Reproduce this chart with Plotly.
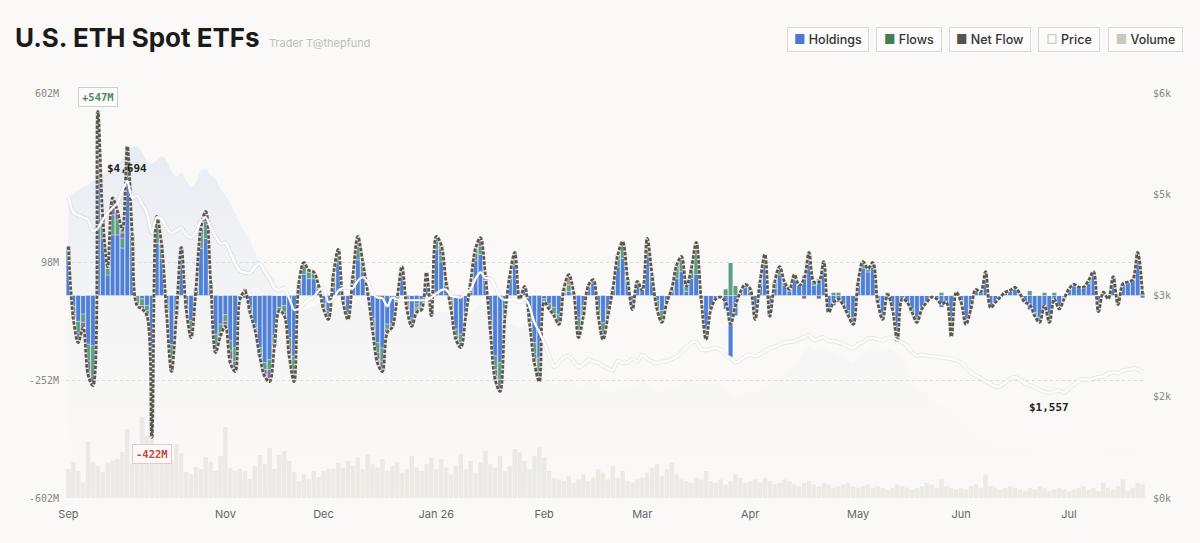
import pandas as pd
import plotly.graph_objects as go

# trading days, Sep 2025 -> Jul 2026
START_DAY = "2025-09-18"
TICK_MONTHS = ["2025-09", "2025-11", "2025-12", "2026-01", "2026-02",
               "2026-03", "2026-04", "2026-05", "2026-06", "2026-07"]
TICK_LABELS = ["Sep", "Nov", "Dec", "Jan 26", "Feb", "Mar", "Apr", "May", "Jun", "Jul"]

# daily net flow, $M
NET_FLOW = [
    146, -70, -140, -95, -235, -268, 547, 230, 86, 290, 250, 196, 443, 180, -30, -40, -60, -422, 235, 150,
    -50, -226, -60, 143, -40, -125, 20, 200, 250, 40, -170, -120, -92, -200, -226, -10, 12, -50, -100, -180,
    -240, -256, -150, -45, -60, -180, -256, 40, 98, 75, 70, 30, -40, -71, 60, 137, -20, -71, 60, 176,
    100, 10, -100, -200, -226, -110, -95, -10, 86, -40, -92, -50, -42, 68, -60, 176, 150, 40, -40, -130,
    -155, -60, 40, 140, 172, 60, -100, -250, -285, -60, 60, 128, -10, 27, -80, -200, -256, -20, -40, -60,
    -86, 20, 62, 10, -125, -60, 30, 47, -60, -131, -60, 20, 120, 160, 50, -42, 42, 15, 170, 60,
    -40, -80, -20, 20, 90, 116, 27, 80, 158, -10, -131, -40, -10, -5, -20, -85, -30, 10, 33, 20,
    -71, 40, 122, -62, 40, 86, 40, 18, 62, 30, 50, 128, 40, 40, 101, -50, -20, -10, -30, -60,
    -86, 40, 101, 80, 98, -20, -71, 3, -40, -137, -10, -20, -50, -80, -40, -20, -5, -10, -25, -20,
    -122, 10, -20, -86, -40, 18, 10, 71, -36, -20, -5, 10, 15, 24, 5, -20, -27, -60, -80, -30,
    -80, -10, -40, -10, 20, 33, 25, 25, 45, 71, -48, 10, -10, 56, -27, 35, 40, 47, 128, 3,
]

# per-fund flows, $M (ETHA is the remainder of the net flow)
FETH = [
    10, -20, -35, -25, -50, -90, 110, 40, 20, 60, 45, 30, 60, 25, -25, -20, -15, -60, 50, 30,
    -15, -40, -10, 25, -10, -30, 5, 40, 50, 10, -30, -25, -20, -30, -40, 0, 0, -15, -10, -15,
    -20, -30, -20, -10, -20, -30, -40, 15, 25, 20, 15, 10, -10, -10, 15, 30, -5, -15, 15, 40,
    20, 5, -20, -30, -40, -15, -10, 0, 20, -10, -15, -10, -10, 10, -10, 25, 20, 10, -5, -20,
    -25, -10, 5, 20, 25, 15, -15, -40, -50, -20, 10, 40, 0, 0, -10, -35, -40, -10, -15, -20,
    -20, 5, 20, 0, -40, -30, 5, 10, -15, -30, -20, 0, 25, 40, 10, -10, 10, 0, 40, 20,
    -25, -30, 0, 10, 30, 35, 15, 30, 80, 0, -20, 0, 0, 0, 20, 98, 30, 0, 10, 10,
    -15, 10, 20, -20, 20, 25, 10, 5, 15, 0, 10, 30, 10, 5, 30, -10, 10, 10, -5, -15,
    -20, 10, 20, 10, 15, 0, -10, 10, -5, -20, 0, 0, -10, -15, -5, 0, 0, 0, 10, 0,
    -15, 0, -5, -10, 0, 0, 0, 15, 0, 0, 0, 0, 0, 0, 0, 0, 15, -10, -10, 10,
    -10, 10, -5, 0, 0, 0, 0, 0, 10, 10, 0, 0, 0, 0, 0, 0, 0, 0, 10, 10,
]
ETHE = [
    0, -12, -20, -15, -30, -20, 60, 20, 0, 40, 25, 15, 30, 10, 0, -10, -10, -50, 20, 10,
    0, -30, -5, 15, 0, -15, 0, 20, 20, 0, -15, -10, -10, -25, -20, 0, 0, 0, -5, -10,
    -15, -25, -10, 0, -10, -20, -25, 0, 10, 0, 5, 0, 0, -5, 0, 10, 0, -5, 10, 20,
    10, 0, -10, -20, -20, -10, 0, 0, 0, -10, -10, -5, 0, 5, -10, 15, 20, 0, 0, -10,
    -10, 0, 0, 10, 15, 0, -10, -20, -25, 0, 0, 0, 0, 0, -5, -15, -20, 0, 0, -5,
    -10, 0, 0, 0, -10, 0, 0, 0, -5, -15, 0, 0, 10, 10, 0, 0, 0, 0, 15, 0,
    0, -5, 0, 0, 10, 10, 0, 0, 10, 0, -10, 0, 0, 0, 0, 0, 0, 0, 0, 0,
    0, 0, 10, -5, 0, 0, 0, 0, 0, 0, -10, 0, 0, -10, 0, 0, 0, 0, 0, 0,
    0, 0, 0, 0, 0, 0, 0, 0, 0, 0, 0, 0, 0, 0, 0, 0, 0, 0, 0, 0,
    -5, 0, 0, 0, 0, 0, 0, 0, 0, 0, 0, 0, 0, 0, 0, 0, 0, 0, 0, 0,
    0, 0, 0, 0, 0, 0, 0, 0, 0, 0, 0, 0, 0, 0, 0, 0, 0, 0, 0, 0,
]
ETH_MINI = [
    0, -5, -8, 0, -10, -8, 25, 0, 5, 10, 0, 10, 15, 0, -5, 0, -5, -20, 10, 0,
    -5, -10, 0, 5, 0, -5, 0, 0, 10, 0, -10, 0, -5, -10, -10, 0, 20, 0, 0, 0,
    -5, -10, 0, 0, 0, -5, -10, 0, 0, 5, 0, 0, -5, -10, 20, 0, 0, 0, 0, 10,
    0, 0, 0, -10, -10, 0, 0, 0, 0, -15, 0, -10, 0, 25, 0, 0, 10, 0, -25, 0,
    -5, 0, 25, 5, 10, 0, 0, -10, -10, 0, 0, 0, 0, 10, 0, -10, -10, 0, 0, 0,
    0, 10, 30, 0, -10, 0, 0, 0, 0, -5, 0, 0, 0, 0, 0, 0, 0, 0, 0, 0,
    0, 0, 0, 0, 0, 0, 0, 0, 5, 0, 0, 0, 0, 0, 0, 0, 0, 0, 0, 0,
    0, 0, 0, 0, 0, 0, 0, 0, 0, 0, 0, 0, 0, 0, 0, 0, 0, 0, 0, 0,
    0, 0, 0, 0, 0, 0, 0, 0, 0, 0, 0, 0, 0, 0, 0, 0, 0, 0, 0, 0,
    0, 0, 0, -5, 0, 0, 0, 0, 0, 0, 0, 0, 0, 0, 0, 0, 0, 0, -5, 0,
    0, 0, 0, -5, 0, 0, 0, 0, 0, 0, 0, 0, 0, 0, 0, 0, 0, 0, 0, 0,
]

# ETH price, $
PRICE = [
    4460, 4230, 4190, 4160, 4120, 3950, 4000, 4120, 4220, 4300, 4370, 4560, 4694, 4440, 4480, 4360, 4220, 3930, 4160, 4130,
    4000, 3925, 3960, 4000, 3900, 3860, 3940, 4100, 4160, 4000, 3870, 3770, 3780, 3640, 3480, 3360, 3340, 3330, 3420, 3480,
    3360, 3250, 3110, 3080, 3110, 2960, 2790, 2800, 2870, 2940, 2980, 3070, 3120, 2900, 2940, 3070, 3110, 3120, 3110, 3220,
    3270, 3200, 3040, 2970, 2960, 2840, 2970, 2940, 2930, 2930, 2930, 2930, 2930, 2930, 2970, 3030, 3080, 3090, 2990, 2980,
    2970, 3040, 3090, 3250, 3347, 3260, 3250, 3130, 2980, 2930, 2940, 2940, 2900, 2960, 2840, 2600, 2460, 2290, 2110, 1940,
    2000, 2090, 2100, 2030, 1940, 1980, 2050, 2020, 2010, 1950, 1920, 1890, 2030, 2000, 2010, 2060, 2020, 2120, 2060, 2020,
    2000, 2020, 2030, 2060, 2090, 2160, 2230, 2300, 2310, 2200, 2190, 2210, 2220, 2200, 2120, 2080, 2010, 2040, 2100, 2120,
    2100, 2130, 2170, 2220, 2240, 2270, 2300, 2310, 2320, 2350, 2390, 2414, 2340, 2360, 2380, 2320, 2330, 2300, 2280, 2240,
    2220, 2280, 2310, 2360, 2370, 2350, 2340, 2370, 2380, 2340, 2300, 2260, 2160, 2110, 2120, 2110, 2100, 2090, 2080, 2070,
    2060, 2040, 2000, 1930, 1860, 1810, 1780, 1730, 1690, 1650, 1660, 1710, 1770, 1790, 1760, 1700, 1670, 1640, 1600, 1570,
    1557, 1580, 1590, 1560, 1620, 1680, 1740, 1760, 1750, 1770, 1790, 1800, 1840, 1860, 1850, 1890, 1900, 1920, 1910, 1860,
]

# total holdings, $B
HOLDINGS = [
    22.4, 22.6, 22.8, 23.0, 23.2, 23.5, 23.8, 24.0, 24.2, 24.4, 24.6, 25.2, 25.8, 26.0, 26.0, 25.6, 25.0, 24.8, 25.0, 25.3,
    25.0, 24.2, 23.8, 24.1, 23.5, 23.0, 23.4, 24.2, 24.4, 23.9, 23.6, 22.9, 22.4, 21.8, 21.1, 20.3, 19.6, 19.1, 18.2, 17.6,
    17.1, 16.6, 16.2, 15.5, 15.0, 14.6, 14.0, 13.8, 13.9, 14.1, 14.2, 14.4, 14.5, 13.9, 13.9, 14.3, 14.4, 14.4, 14.3, 14.7,
    14.8, 14.6, 14.0, 13.8, 13.7, 13.3, 13.6, 13.5, 13.5, 13.4, 13.4, 13.4, 13.4, 13.4, 13.5, 13.7, 13.8, 13.8, 13.5, 13.4,
    13.3, 13.5, 13.6, 14.0, 14.3, 14.0, 13.9, 13.5, 13.0, 12.8, 12.8, 12.8, 12.6, 12.8, 12.3, 11.4, 10.8, 10.0, 9.2, 8.4,
    8.6, 8.9, 8.9, 8.6, 8.2, 8.3, 8.6, 8.4, 8.3, 8.0, 7.9, 7.8, 8.3, 8.2, 8.2, 8.4, 8.2, 8.6, 8.4, 8.1,
    8.0, 8.0, 8.0, 8.1, 8.2, 8.4, 8.7, 9.0, 9.0, 8.5, 8.4, 8.4, 8.4, 8.3, 7.9, 7.7, 7.4, 7.5, 7.8, 7.9,
    7.8, 8.0, 8.2, 8.5, 8.7, 9.0, 9.3, 9.5, 9.8, 10.2, 10.8, 11.2, 10.9, 11.0, 11.1, 10.8, 10.8, 10.6, 10.4, 10.2,
    10.0, 10.4, 10.6, 10.9, 11.0, 10.9, 10.8, 11.0, 11.0, 10.6, 10.2, 9.6, 8.8, 8.2, 8.0, 7.6, 7.3, 7.0, 6.8, 6.6,
    6.4, 6.2, 5.9, 5.5, 5.1, 4.8, 4.5, 4.3, 4.1, 3.9, 3.8, 3.9, 4.0, 4.1, 4.0, 3.8, 3.6, 3.5, 3.3, 3.2,
    3.1, 3.1, 3.1, 3.1, 3.2, 3.3, 3.4, 3.5, 3.5, 3.5, 3.6, 3.6, 3.7, 3.7, 3.7, 3.8, 3.8, 3.9, 3.9, 3.8,
]

# trading volume, $B
VOLUME = [
    0.86, 1.07, 0.80, 0.47, 1.66, 1.07, 0.95, 0.77, 1.04, 1.10, 1.16, 1.36, 2.04, 1.01, 1.07, 2.40, 1.84, 1.84, 1.16, 1.10,
    1.07, 1.10, 1.60, 1.33, 0.77, 0.71, 0.92, 0.86, 1.21, 1.07, 0.80, 1.24, 2.10, 0.89, 0.80, 0.86, 0.80, 0.56, 0.95, 1.27,
    1.01, 1.48, 0.86, 1.27, 1.39, 1.10, 0.77, 0.50, 0.71, 0.56, 0.80, 0.62, 0.80, 0.86, 0.86, 1.04, 0.89, 1.10, 0.95, 1.20,
    0.85, 1.30, 1.00, 0.90, 1.15, 0.80, 0.95, 1.05, 0.75, 0.85, 1.25, 0.90, 0.80, 1.00, 1.20, 0.85, 1.15, 0.90, 0.70, 0.95,
    1.30, 0.85, 1.10, 0.75, 1.05, 1.40, 1.00, 0.90, 1.25, 0.80, 0.95, 1.45, 1.35, 1.10, 0.85, 1.25, 1.50, 1.20, 0.80, 0.60,
    0.55, 0.50, 0.65, 0.45, 0.55, 0.70, 0.50, 0.60, 0.85, 0.75, 0.55, 0.95, 0.60, 0.80, 0.50, 0.45, 0.55, 0.60, 0.75, 0.90,
    1.00, 0.65, 0.85, 1.05, 0.70, 0.55, 0.50, 0.45, 0.60, 0.55, 0.80, 0.50, 0.45, 0.55, 0.40, 0.50, 0.70, 0.60, 0.45, 0.50,
    0.55, 0.45, 0.60, 0.50, 0.40, 0.45, 0.55, 0.50, 0.40, 0.35, 0.45, 0.50, 0.40, 0.35, 0.45, 0.40, 0.30, 0.35, 0.40, 0.45,
    0.35, 0.30, 0.35, 0.40, 0.30, 0.35, 0.30, 0.25, 0.30, 0.40, 0.35, 0.30, 0.25, 0.30, 0.35, 0.45, 0.40, 0.30, 0.55, 0.35,
    0.30, 0.25, 0.30, 0.25, 0.35, 0.40, 0.30, 0.70, 0.35, 0.30, 0.25, 0.30, 0.35, 0.30, 0.25, 0.20, 0.30, 0.25, 0.35, 0.30,
    0.20, 0.25, 0.30, 0.25, 0.20, 0.25, 0.30, 0.35, 0.25, 0.30, 0.20, 0.45, 0.30, 0.25, 0.35, 0.55, 0.20, 0.30, 0.45, 0.40,
]

FLOW_TICKS = [602, 98, -252, -602]
FLOW_TICK_LABELS = ["602M", "98M", "-252M", "-602M"]
PRICE_TICKS = [6000, 4500, 3000, 1500, 0]
PRICE_TICK_LABELS = ["$6k", "$5k", "$3k", "$2k", "$0k"]

LEGEND_LABELS = ["Holdings", "Flows", "Net Flow", "Price", "Volume"]
LEGEND_MARKS = ["■", "■", "■", "□", "■"]
LEGEND_COLORS = ["#4a78d2", "#3f7f52", "#57534c", "#cfcbc4", "#cbc8c1"]

FUND_COLORS = {"ETHA": "#4f7fd6", "FETH": "#5e9f84", "ETHE": "#7c6fa9", "ETH": "#a99c7f"}

BG = "#faf9f7"
MONO = "DejaVu Sans Mono"
SANS = "Inter, Noto Sans, sans-serif"

n = len(NET_FLOW)
for arr in (FETH, ETHE, ETH_MINI, PRICE, HOLDINGS, VOLUME):
    assert len(arr) == n, len(arr)

days = pd.bdate_range(START_DAY, periods=n).strftime("%Y-%m-%d").tolist()
etha = [t - a - b - c for t, a, b, c in zip(NET_FLOW, FETH, ETHE, ETH_MINI)]
tickvals = [next(d for d in days if d.startswith(m)) for m in TICK_MONTHS]

fig = go.Figure()

# holdings area (base axis, drawn first)
fig.add_trace(go.Scatter(
    x=days, y=HOLDINGS, yaxis="y", mode="lines", line=dict(width=0, shape="spline"),
    fill="tozeroy",
    fillgradient=dict(type="vertical", start=0, stop=26,
                      colorscale=[[0, "rgba(240,240,242,0.0)"], [1, "rgba(200,211,236,0.36)"]]),
    hoverinfo="skip",
))

# volume bars
fig.add_trace(go.Bar(
    x=days, y=VOLUME, yaxis="y2", marker=dict(color="rgba(205,201,193,0.32)", line_width=0),
    hoverinfo="skip",
))

# per-fund flow bars
for name, vals in [("ETHA", etha), ("FETH", FETH), ("ETHE", ETHE), ("ETH", ETH_MINI)]:
    fig.add_trace(go.Bar(
        x=days, y=vals, yaxis="y3", name=name,
        marker=dict(color=FUND_COLORS[name], line=dict(color="rgba(255,255,255,0.8)", width=0.4)),
    ))

# net flow line: light underlay + dark dashes
fig.add_trace(go.Scatter(
    x=days, y=NET_FLOW, yaxis="y3", mode="lines",
    line=dict(color="rgba(238,234,226,0.95)", width=3, shape="spline"), hoverinfo="skip",
))
fig.add_trace(go.Scatter(
    x=days, y=NET_FLOW, yaxis="y3", mode="lines",
    line=dict(color="#5a5650", width=2.8, shape="spline", dash="3.5px,1.5px"),
))

# price line with soft shadow
fig.add_trace(go.Scatter(
    x=days, y=PRICE, yaxis="y4", mode="lines",
    line=dict(color="rgba(120,120,120,0.12)", width=4.5, shape="spline", smoothing=0.6),
    hoverinfo="skip",
))
fig.add_trace(go.Scatter(
    x=days, y=PRICE, yaxis="y4", mode="lines",
    line=dict(color="white", width=2.2, shape="spline", smoothing=0.6),
))

i_max = max(range(n), key=lambda i: NET_FLOW[i])
i_min = min(range(n), key=lambda i: NET_FLOW[i])
p_max = max(range(n), key=lambda i: PRICE[i])
p_min = min(range(n), key=lambda i: PRICE[i])

annotations = [
    dict(x=days[i_max], y=NET_FLOW[i_max], xref="x", yref="y3", yshift=15,
         text=f"<b>+{NET_FLOW[i_max]}M</b>", showarrow=False,
         font=dict(family=MONO, size=10.5, color="#4b8a5e"),
         bgcolor="#fbfcfb", bordercolor="#c9d3c9", borderwidth=1, borderpad=3),
    dict(x=days[i_min], y=NET_FLOW[i_min], xref="x", yref="y3", yshift=-17,
         text=f"<b>{NET_FLOW[i_min]}M</b>", showarrow=False,
         font=dict(family=MONO, size=10.5, color="#c0473a"),
         bgcolor="#fdf8f7", bordercolor="#e6c9c5", borderwidth=1, borderpad=3),
    dict(x=days[p_max], y=PRICE[p_max], xref="x", yref="y4", yshift=13,
         text=f"<b>${PRICE[p_max]:,}</b>", showarrow=False,
         font=dict(family=MONO, size=11, color="#222")),
    dict(x=days[p_min], y=PRICE[p_min], xref="x", yref="y4", yshift=-15,
         text=f"<b>${PRICE[p_min]:,}</b>", showarrow=False,
         font=dict(family=MONO, size=11, color="#222")),
]

# legend chips along the top right
ML, MR, MT, MB = 66, 55, 93, 45
W, H = 1200, 543
pw, ph = W - ML - MR, H - MT - MB
chip_centers = [828, 909, 990, 1069, 1145]
chip_widths = [80, 64, 80, 60, 73]
for cx, cw, lab, mark, col in zip(chip_centers, chip_widths, LEGEND_LABELS, LEGEND_MARKS, LEGEND_COLORS):
    annotations.append(dict(
        x=(cx - ML) / pw, y=(MT + ph - 39) / ph, xref="paper", yref="paper",
        xanchor="center", yanchor="middle", showarrow=False,
        text=f'<span style="color:{col}">{mark}</span> {lab}',
        width=cw, height=23, borderpad=0, borderwidth=1,
        bordercolor="#dddad4", bgcolor="#fcfbfa",
        font=dict(family=SANS, size=12.5, color="#333", weight=500),
    ))

fig.update_layout(
    width=W, height=H,
    margin=dict(l=ML, r=MR, t=MT, b=MB),
    paper_bgcolor=BG, plot_bgcolor=BG,
    barmode="relative", bargap=0.1,
    showlegend=False,
    title=dict(
        text='U.S. ETH Spot ETFs <span style="font-size:11px;color:#bdbdbd;font-weight:400">'
             ' Trader T@thepfund</span>',
        x=15 / W, xanchor="left", xref="container",
        y=1 - 38 / H, yanchor="middle", yref="container",
        font=dict(family=SANS, size=26, color="#1b1b1b", weight=700),
    ),
    xaxis=dict(
        type="category", range=[-0.5, n - 0.5], tickvals=tickvals, ticktext=TICK_LABELS,
        showgrid=False, zeroline=False, showline=False, ticks="",
        tickfont=dict(family=SANS, size=11, color="#666"), ticklabelstandoff=8,
    ),
    yaxis=dict(range=[0, 30], visible=False),
    yaxis2=dict(range=[0, 12], overlaying="y", visible=False),
    yaxis3=dict(
        range=[-602, 602], overlaying="y", side="left",
        tickvals=FLOW_TICKS, ticktext=FLOW_TICK_LABELS,
        showgrid=True, gridcolor="#dedbd5", griddash="dot", gridwidth=1,
        zeroline=False, showline=False, ticks="",
        tickfont=dict(family=MONO, size=10, color="#888"), ticklabelstandoff=6,
    ),
    yaxis4=dict(
        range=[0, 6000], overlaying="y", side="right",
        tickvals=PRICE_TICKS, ticktext=PRICE_TICK_LABELS,
        showgrid=False, zeroline=False, showline=False, ticks="",
        tickfont=dict(family=MONO, size=10, color="#888"), ticklabelstandoff=7,
    ),
    annotations=annotations,
)

# the page body has a default 8px margin; drop it so the figure sits at 0,0
fig.write_html("out.html", config={"displayModeBar": False},
               post_script="document.body.style.margin='0';")
